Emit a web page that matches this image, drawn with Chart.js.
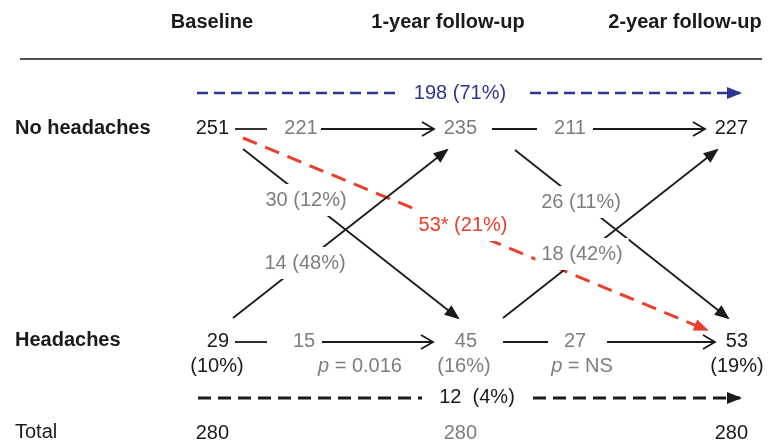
<!DOCTYPE html>
<html>
<head>
<meta charset="utf-8">
<script src="https://cdn.jsdelivr.net/npm/chart.js@4.4.1/dist/chart.umd.min.js"></script>
<style>
  html, body { margin: 0; padding: 0; background: #fff; }
  #wrap { width: 768px; height: 448px; }
</style>
</head>
<body>
<div id="wrap"><canvas id="flowChart"></canvas></div>
<script>
// Counts
const headers = ['Baseline', '1-year follow-up', '2-year follow-up'];
const rowLabels = ['No headaches', 'Headaches', 'Total'];
const noHeadaches = [251, 235, 227];
const headaches = [29, 45, 53];
const headachePct = [10, 16, 19];
const totals = [280, 280, 280];
const stayedFree = [221, 211];       // no headaches -> no headaches
const stayedHeadache = [15, 27];     // headaches -> headaches
const newHeadache = [30, 26];
const newHeadachePct = [12, 11];
const remitted = [14, 18];
const remittedPct = [48, 42];
const pValues = ['0.016', 'NS'];
const alwaysFree = [198, 71];
const alwaysHeadache = [12, 4];
const everNewHeadache = [53, 21];

// Layout, in canvas units (x 0-768, y 0-448 from the top)
const colRight = [229, 477, 748];    // node numbers are right aligned here
const pctX = [217, 464, 737];
const headerX = [212, 448, 685];
const yHeader = 22, yRule = 59, yAllFree = 93, yFree = 129, yHead = 342, yPct = 366, yAllHead = 398, yTotal = 432;
const topFlow = [{ dash: [235, 267], label: 301, arrow: [321, 434] }, { dash: [492, 537], label: 570, arrow: [593, 705] }];
const botFlow = [{ dash: [235, 267], label: 304, arrow: [322, 433] }, { dash: [503, 548], label: 575, arrow: [607, 715] }];
const downFlow = [{ from: [243, 149], to: [458, 318], label: [306, 200] }, { from: [515, 150], to: [728, 318], label: [581, 202] }];
const upFlow = [{ from: [233, 318], to: [447, 150], label: [305, 263] }, { from: [503, 318], to: [717, 150], label: [582, 254] }];
const pX = [360, 582];

const BLACK = '#1a1a1a', GREY = '#7d7d7d', BLUE = '#2e3592', RED = '#e8402c';
const FONT = '"Liberation Sans", Arial, sans-serif';

// Build the line datasets
const datasets = [];
function seg(x1, y1, x2, y2, opts) {
    datasets.push(Object.assign({
        data: [{ x: x1, y: y1 }, { x: x2, y: y2 }],
        showLine: true,
        pointRadius: 0,
        borderColor: BLACK,
        borderWidth: 1.8,
        borderCapStyle: 'butt',
        fill: false
    }, opts || {}));
}

seg(20, yRule, 762, yRule, { borderWidth: 1.4 });

topFlow.forEach(f => {
    seg(f.dash[0], yFree, f.dash[1], yFree);
    seg(f.arrow[0], yFree, f.arrow[1], yFree, { arrow: 'open' });
});
botFlow.forEach(f => {
    seg(f.dash[0], yHead, f.dash[1], yHead);
    seg(f.arrow[0], yHead, f.arrow[1], yHead, { arrow: 'open' });
});
downFlow.concat(upFlow).forEach(f => {
    seg(f.from[0], f.from[1], f.to[0], f.to[1], { arrow: 'filled' });
});

// dashed summary arrows
seg(197, yAllFree, 400, yAllFree, { borderColor: BLUE, borderWidth: 2.5, borderDash: [11, 6] });
seg(530, yAllFree, 740, yAllFree, { borderColor: BLUE, borderWidth: 2.5, borderDash: [11, 6], arrow: 'filled' });
seg(198, yAllHead, 422, yAllHead, { borderWidth: 3, borderDash: [13, 7] });
seg(533, yAllHead, 740, yAllHead, { borderWidth: 3, borderDash: [13, 7], arrow: 'filled' });
seg(243, 138, 707, 330, { borderColor: RED, borderWidth: 3, borderDash: [15, 9], arrow: 'filled' });

// Text items
const texts = [];
function txt(parts, x, y, color, opts) {
    texts.push(Object.assign({ parts: typeof parts === 'string' ? [{ t: parts }] : parts, x, y, color, align: 'center', weight: 'normal', mask: false }, opts || {}));
}

headers.forEach((h, i) => txt(h, headerX[i], yHeader, BLACK, { weight: 'bold' }));
txt(rowLabels[0], 15, yFree - 1, BLACK, { weight: 'bold', align: 'left' });
txt(rowLabels[1], 15, yHead - 2, BLACK, { weight: 'bold', align: 'left' });
txt(rowLabels[2], 15, yTotal, BLACK, { align: 'left' });

noHeadaches.forEach((v, i) => txt(String(v), colRight[i], yFree - 1, i === 1 ? GREY : BLACK, { align: 'right' }));
headaches.forEach((v, i) => txt(String(v), colRight[i], yHead - 1, i === 1 ? GREY : BLACK, { align: 'right' }));
headachePct.forEach((v, i) => txt('(' + v + '%)', pctX[i], yPct, i === 1 ? GREY : BLACK));
totals.forEach((v, i) => txt(String(v), colRight[i], yTotal + 1, i === 1 ? GREY : BLACK, { align: 'right' }));

stayedFree.forEach((v, i) => txt(String(v), topFlow[i].label, yFree - 1, GREY));
stayedHeadache.forEach((v, i) => txt(String(v), botFlow[i].label, yHead - 1, GREY));
newHeadache.forEach((v, i) => txt(v + ' (' + newHeadachePct[i] + '%)', downFlow[i].label[0], downFlow[i].label[1], GREY, { mask: true }));
remitted.forEach((v, i) => txt(v + ' (' + remittedPct[i] + '%)', upFlow[i].label[0], upFlow[i].label[1], GREY, { mask: true }));
pValues.forEach((v, i) => txt([{ t: 'p', italic: true }, { t: ' = ' + v }], pX[i], yPct, GREY));

txt(alwaysFree[0] + ' (' + alwaysFree[1] + '%)', 460, yAllFree, BLUE);
txt(alwaysHeadache[0] + '  (' + alwaysHeadache[1] + '%)', 477, yAllHead - 1, BLACK);
txt(everNewHeadache[0] + '* (' + everNewHeadache[1] + '%)', 463, 225, RED, { mask: true });

// Draws arrow heads at the end of datasets that ask for one
const arrowPlugin = {
    id: 'arrowHeads',
    afterDatasetsDraw(chart) {
        const ctx = chart.ctx;
        chart.data.datasets.forEach((ds, i) => {
            if (!ds.arrow) return;
            const pts = chart.getDatasetMeta(i).data;
            const a = pts[pts.length - 2], b = pts[pts.length - 1];
            const ang = Math.atan2(b.y - a.y, b.x - a.x);
            ctx.save();
            ctx.translate(b.x, b.y);
            ctx.rotate(ang);
            ctx.strokeStyle = ds.borderColor;
            ctx.fillStyle = ds.borderColor;
            if (ds.arrow === 'open') {
                ctx.lineWidth = ds.borderWidth;
                ctx.beginPath();
                ctx.moveTo(-12, -7);
                ctx.lineTo(0, 0);
                ctx.lineTo(-12, 7);
                ctx.stroke();
            } else {
                ctx.beginPath();
                ctx.moveTo(2, 0);
                ctx.lineTo(-13, -6);
                ctx.lineTo(-13, 6);
                ctx.closePath();
                ctx.fill();
            }
            ctx.restore();
        });
    }
};

// Draws all text, masking the lines underneath where needed
const labelPlugin = {
    id: 'flowLabels',
    afterDatasetsDraw(chart) {
        const ctx = chart.ctx;
        const sx = chart.scales.x, sy = chart.scales.y;
        texts.forEach(item => {
            const fontFor = p => (p.italic ? 'italic ' : '') + item.weight + ' 20px ' + FONT;
            let w = 0;
            item.parts.forEach(p => { ctx.font = fontFor(p); p.w = ctx.measureText(p.t).width; w += p.w; });
            const px = sx.getPixelForValue(item.x), py = sy.getPixelForValue(item.y);
            let x0 = item.align === 'left' ? px : item.align === 'right' ? px - w : px - w / 2;
            ctx.save();
            if (item.mask) {
                ctx.fillStyle = '#fff';
                ctx.fillRect(x0 - 6, py - 16, w + 12, 32);
            }
            ctx.fillStyle = item.color;
            ctx.textBaseline = 'middle';
            ctx.textAlign = 'left';
            item.parts.forEach(p => {
                ctx.font = fontFor(p);
                ctx.fillText(p.t, x0, py);
                x0 += p.w;
            });
            ctx.restore();
        });
    }
};

const ctx = document.getElementById('flowChart').getContext('2d');
const flowChart = new Chart(ctx, {
    type: 'scatter',
    data: { datasets },
    options: {
        responsive: true,
        maintainAspectRatio: false,
        animation: false,
        layout: { padding: 0 },
        plugins: { legend: { display: false }, tooltip: { enabled: false } },
        scales: {
            x: { type: 'linear', min: 0, max: 768, display: false },
            y: { type: 'linear', min: 0, max: 448, reverse: true, display: false }
        }
    },
    plugins: [arrowPlugin, labelPlugin]
});
</script>
</body>
</html>
